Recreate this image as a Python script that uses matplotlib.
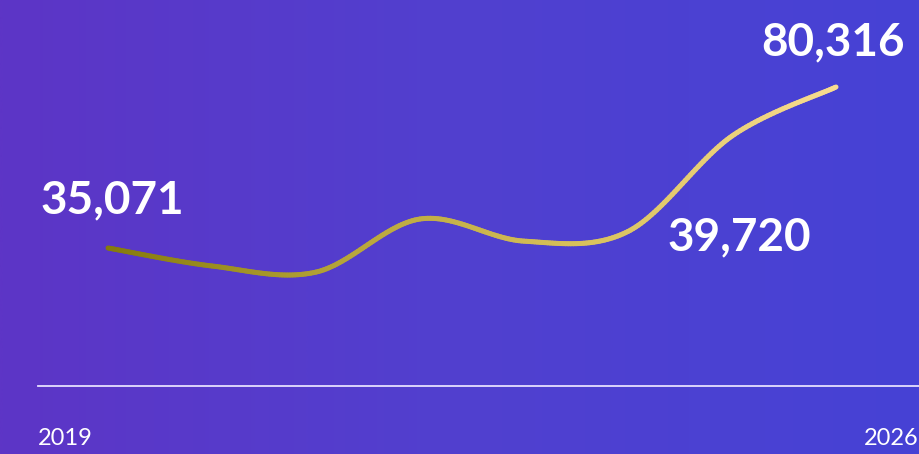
import numpy as np
import matplotlib
matplotlib.use("Agg")
import matplotlib.pyplot as plt
from matplotlib.collections import LineCollection
from matplotlib.colors import LinearSegmentedColormap

# Yearly series
years = [2019, 2020, 2021, 2022, 2023, 2024, 2025, 2026]
values = [35071, 30013, 28300, 43220, 37000, 39720, 66540, 80316]
labelled = {2019: "35,071", 2024: "39,720", 2026: "80,316"}
end_labels = ["2019", "2026"]

W, H, DPI = 919, 454, 100
fig = plt.figure(figsize=(W / DPI, H / DPI), dpi=DPI)

# Background horizontal gradient
bg = fig.add_axes([0, 0, 1, 1])
bg_cmap = LinearSegmentedColormap.from_list("bg", ["#5d35c6", "#5140cf", "#4642d5"])
bg.imshow(np.linspace(0, 1, 512)[None, :], aspect="auto", cmap=bg_cmap,
          extent=[0, 1, 0, 1])
bg.set_axis_off()

ax = fig.add_axes([0, 0, 1, 1])
ax.patch.set_alpha(0)
ax.set_axis_off()

# Scales: one year spans 104 px, first point sits 108 px from the left
px_per_year = 104.0
x0_px = 108.0
ax.set_xlim(years[0] - x0_px / px_per_year, years[0] + (W - x0_px) / px_per_year)
units_per_px = (values[-1] - values[0]) / (248.0 - 87.0)
y0_px = 248.0
ax.set_ylim(values[0] - (H - y0_px) * units_per_px, values[0] + y0_px * units_per_px)


def catmull_rom(xs, ys, n=40):
    xs = np.asarray(xs, float)
    ys = np.asarray(ys, float)
    px = np.concatenate([[xs[0]], xs, [xs[-1]]])
    py = np.concatenate([[ys[0]], ys, [ys[-1]]])
    ox, oy = [], []
    for i in range(1, len(px) - 2):
        t = np.linspace(0, 1, n, endpoint=(i == len(px) - 3))
        mx0 = (px[i + 1] - px[i - 1]) / 2
        mx1 = (px[i + 2] - px[i]) / 2
        my0 = (py[i + 1] - py[i - 1]) / 2
        my1 = (py[i + 2] - py[i]) / 2
        h00 = 2 * t**3 - 3 * t**2 + 1
        h10 = t**3 - 2 * t**2 + t
        h01 = -2 * t**3 + 3 * t**2
        h11 = t**3 - t**2
        ox.append(h00 * px[i] + h10 * mx0 + h01 * px[i + 1] + h11 * mx1)
        oy.append(h00 * py[i] + h10 * my0 + h01 * py[i + 1] + h11 * my1)
    return np.concatenate(ox), np.concatenate(oy)


sx, sy = catmull_rom(years, values)
pts = np.column_stack([sx, sy]).reshape(-1, 1, 2)
segs = np.concatenate([pts[:-1], pts[1:]], axis=1)
line_cmap = LinearSegmentedColormap.from_list(
    "line", ["#857a0c", "#b8a63a", "#d9c25e", "#f8dc90"])
lc = LineCollection(segs, cmap=line_cmap, linewidths=3.6, capstyle="round",
                    joinstyle="round")
lc.set_array((sx[:-1] - years[0]) / (years[-1] - years[0]))
ax.add_collection(lc)

# Baseline
ax.axhline(ax.get_ylim()[0] + (H - 386) * units_per_px, xmin=38 / W, xmax=1,
           color="#e6e0ff", lw=1.3)

# Value labels
font_big = dict(family=["Lato", "DejaVu Sans"], fontweight="bold", fontsize=33,
                color="white")
offsets = {2019: ((4, 35), "center"), 2024: ((40, -19), "left"),
           2026: ((-3, 32), "center")}
for yr, txt in labelled.items():
    v = values[years.index(yr)]
    (dx, dy), ha = offsets[yr]
    ax.annotate(txt, (yr, v), xytext=(dx, dy), textcoords="offset pixels",
                ha=ha, va="baseline", **font_big)

# Year labels
font_small = dict(family=["Lato", "DejaVu Sans"], fontweight="normal",
                  fontsize=17, color="white")
fig.text(38 / W, 1 - 445 / H, end_labels[0], ha="left", va="baseline", **font_small)
fig.text(919 / W, 1 - 445 / H, end_labels[1], ha="right", va="baseline", **font_small)

fig.savefig("out.png", dpi=DPI)
